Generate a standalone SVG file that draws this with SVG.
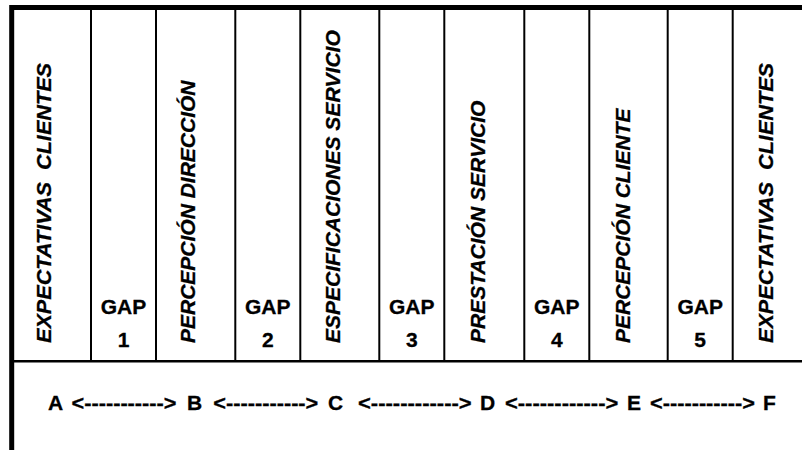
<svg xmlns="http://www.w3.org/2000/svg" width="802" height="450" viewBox="0 0 802 450">
  <style>
    .frame { stroke: #000; stroke-width: 5; fill: none; }
    .rule { stroke: #000; stroke-width: 2; fill: none; }
    .base { stroke: #000; stroke-width: 2.4; fill: none; }
    text { font-family: "Liberation Sans", Arial, sans-serif; font-size: 21px; font-weight: bold; fill: #000; stroke: #000; stroke-width: 0.3; }
    .stage { font-style: italic; }
    .gap { text-anchor: middle; }
  </style>
  <rect width="802" height="450" fill="#fff"/>

  <!-- outer frame: heavy top and left edges, base rule under the columns -->
  <g id="frame">
    <line class="frame" x1="11.7" y1="7.5" x2="802" y2="7.5"/>
    <line class="frame" x1="11.7" y1="5" x2="11.7" y2="450"/>
    <line class="base" x1="14" y1="361.2" x2="802" y2="361.2"/>
  </g>

  <!-- column dividers -->
  <g id="dividers">
    <line class="rule" x1="91" y1="10" x2="91" y2="361"/>
    <line class="rule" x1="156" y1="10" x2="156" y2="361"/>
    <line class="rule" x1="235.3" y1="10" x2="235.3" y2="361"/>
    <line class="rule" x1="300.3" y1="10" x2="300.3" y2="361"/>
    <line class="rule" x1="379.3" y1="10" x2="379.3" y2="361"/>
    <line class="rule" x1="444.3" y1="10" x2="444.3" y2="361"/>
    <line class="rule" x1="524.3" y1="10" x2="524.3" y2="361"/>
    <line class="rule" x1="589.3" y1="10" x2="589.3" y2="361"/>
    <line class="rule" x1="667.7" y1="10" x2="667.7" y2="361"/>
    <line class="rule" x1="732.7" y1="10" x2="732.7" y2="361"/>
  </g>

  <!-- stage columns (vertical labels) -->
  <g id="stage-expectativas-a">
    <text class="stage" transform="translate(50.5,343) rotate(-90)" xml:space="preserve" textLength="280" lengthAdjust="spacingAndGlyphs">EXPECTATIVAS  CLIENTES</text>
  </g>
  <g id="gap-1">
    <text class="gap" x="123.5" y="314.3">GAP</text>
    <text class="gap" x="123.5" y="347">1</text>
  </g>
  <g id="stage-percepcion-direccion">
    <text class="stage" transform="translate(195,343) rotate(-90)">PERCEPCIÓN DIRECCIÓN</text>
  </g>
  <g id="gap-2">
    <text class="gap" x="267.8" y="314.3">GAP</text>
    <text class="gap" x="267.8" y="347">2</text>
  </g>
  <g id="stage-especificaciones">
    <text class="stage" transform="translate(340,343) rotate(-90)">ESPECIFICACIONES SERVICIO</text>
  </g>
  <g id="gap-3">
    <text class="gap" x="411.8" y="314.3">GAP</text>
    <text class="gap" x="411.8" y="347">3</text>
  </g>
  <g id="stage-prestacion">
    <text class="stage" transform="translate(485,343) rotate(-90)">PRESTACIÓN SERVICIO</text>
  </g>
  <g id="gap-4">
    <text class="gap" x="556.8" y="314.3">GAP</text>
    <text class="gap" x="556.8" y="347">4</text>
  </g>
  <g id="stage-percepcion-cliente">
    <text class="stage" transform="translate(630,343) rotate(-90)">PERCEPCIÓN CLIENTE</text>
  </g>
  <g id="gap-5">
    <text class="gap" x="700.2" y="314.3">GAP</text>
    <text class="gap" x="700.2" y="347">5</text>
  </g>
  <g id="stage-expectativas-b">
    <text class="stage" transform="translate(772.7,343) rotate(-90)" xml:space="preserve" textLength="280" lengthAdjust="spacingAndGlyphs">EXPECTATIVAS  CLIENTES</text>
  </g>

  <!-- point labels A..F -->
  <g id="points">
    <text x="48" y="410">A</text>
    <text x="187" y="410">B</text>
    <text x="328" y="410">C</text>
    <text x="480" y="410">D</text>
    <text x="627" y="410">E</text>
    <text x="763" y="410">F</text>
  </g>

  <!-- connectors between points, typed as dashed arrows -->
  <g id="connectors">
    <text x="71.5" y="410" textLength="105" lengthAdjust="spacingAndGlyphs">&lt;-----------&gt;</text>
    <text x="213.3" y="410" textLength="105" lengthAdjust="spacingAndGlyphs">&lt;-----------&gt;</text>
    <text x="358" y="410" textLength="113.7" lengthAdjust="spacingAndGlyphs">&lt;------------&gt;</text>
    <text x="505" y="410" textLength="113.3" lengthAdjust="spacingAndGlyphs">&lt;------------&gt;</text>
    <text x="650" y="410" textLength="105" lengthAdjust="spacingAndGlyphs">&lt;-----------&gt;</text>
  </g>
</svg>
